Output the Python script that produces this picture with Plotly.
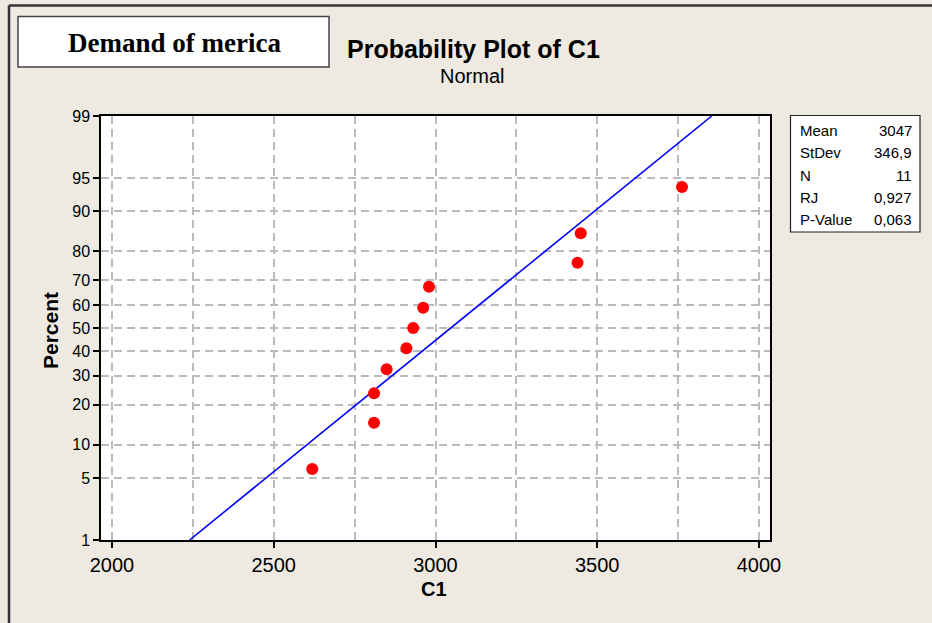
import math
import plotly.graph_objects as go

# ---- data ----
c1_values = [2619, 2810, 2810, 2849, 2910, 2931, 2962, 2980, 3439, 3449, 3762]
percent_values = [6.1, 14.9, 23.7, 32.5, 41.2, 50.0, 58.8, 67.5, 76.3, 85.1, 93.9]
y_tick_percents = [1, 5, 10, 20, 30, 40, 50, 60, 70, 80, 90, 95, 99]
stat_labels = ["Mean", "StDev", "N", "RJ", "P-Value"]
stat_texts = ["3047", "346,9", "11", "0,927", "0,063"]
fit_mean = 3047
fit_sd = 346.9


def norm_ppf(p):
    """Inverse standard normal CDF (Acklam's approximation)."""
    a = [-3.969683028665376e+01, 2.209460984245205e+02, -2.759285104469687e+02,
         1.383577518672690e+02, -3.066479806614716e+01, 2.506628277459239e+00]
    b = [-5.447609879822406e+01, 1.615858368580409e+02, -1.556989798598866e+02,
         6.680131188771972e+01, -1.328068155288572e+01]
    c = [-7.784894002430293e-03, -3.223964580411365e-01, -2.400758277161838e+00,
         -2.549732539343734e+00, 4.374664141464968e+00, 2.938163982698783e+00]
    d = [7.784695709041462e-03, 3.224671290700398e-01, 2.445134137142996e+00,
         3.754408661907416e+00]
    plow = 0.02425
    if p < plow:
        q = math.sqrt(-2 * math.log(p))
        return (((((c[0]*q+c[1])*q+c[2])*q+c[3])*q+c[4])*q+c[5]) / \
               ((((d[0]*q+d[1])*q+d[2])*q+d[3])*q+1)
    if p > 1 - plow:
        q = math.sqrt(-2 * math.log(1 - p))
        return -(((((c[0]*q+c[1])*q+c[2])*q+c[3])*q+c[4])*q+c[5]) / \
                ((((d[0]*q+d[1])*q+d[2])*q+d[3])*q+1)
    q = p - 0.5
    r = q * q
    return (((((a[0]*r+a[1])*r+a[2])*r+a[3])*r+a[4])*r+a[5])*q / \
           (((((b[0]*r+b[1])*r+b[2])*r+b[3])*r+b[4])*r+1)


z_points = [norm_ppf(p / 100) for p in percent_values]
z_ticks = [norm_ppf(p / 100) for p in y_tick_percents]
z_lo, z_hi = z_ticks[0], z_ticks[-1]

W, H = 932, 623
L, R, T, B = 101, 770, 116, 540
pw, ph = R - L, B - T


def px(x):
    return (x - L) / pw


def py(y):
    return (B - y) / ph


FONT = "Liberation Sans"
BG = "#EEEAE1"
GRID = "#BBBBBB"
GDASH = "8px,5px"

fig = go.Figure()

fig.add_trace(go.Scatter(
    x=[fit_mean + fit_sd * z_lo, fit_mean + fit_sd * z_hi],
    y=[z_lo, z_hi],
    mode="lines",
    line=dict(color="#0000FF", width=1.6),
    hoverinfo="skip",
    showlegend=False,
))

fig.add_trace(go.Scatter(
    x=c1_values,
    y=z_points,
    mode="markers",
    marker=dict(color="#FF0000", size=12),
    showlegend=False,
))

shapes = []
# outer frame (top + left)
shapes.append(dict(type="line", xref="paper", yref="paper",
                   x0=px(9), x1=px(940), y0=py(5.5), y1=py(5.5),
                   line=dict(color="#333333", width=2.5)))
shapes.append(dict(type="line", xref="paper", yref="paper",
                   x0=px(9), x1=px(9), y0=py(5.5), y1=py(630),
                   line=dict(color="#333333", width=2.5)))
# "Demand of merica" box
shapes.append(dict(type="rect", xref="paper", yref="paper",
                   x0=px(18), x1=px(329), y0=py(16.5), y1=py(67),
                   fillcolor="white", line=dict(color="#444444", width=1.5)))
# stats box
shapes.append(dict(type="rect", xref="paper", yref="paper",
                   x0=px(790.5), x1=px(920), y0=py(115.5), y1=py(232),
                   fillcolor="white", line=dict(color="#222222", width=1.2)))

annotations = []
annotations.append(dict(text="<b>Demand of merica</b>", xref="paper", yref="paper",
                        x=px(174), y=py(43), showarrow=False,
                        xanchor="center", yanchor="middle",
                        font=dict(family="Liberation Serif", size=27, color="black")))
annotations.append(dict(text="<b>Probability Plot of C1</b>", xref="paper", yref="paper",
                        x=px(473), y=py(49), showarrow=False,
                        xanchor="center", yanchor="middle",
                        font=dict(family=FONT, size=25, color="black")))
annotations.append(dict(text="Normal", xref="paper", yref="paper",
                        x=px(472), y=py(76), showarrow=False,
                        xanchor="center", yanchor="middle",
                        font=dict(family=FONT, size=20, color="black")))
annotations.append(dict(text="<b>Percent</b>", xref="paper", yref="paper",
                        x=px(50), y=py(331), showarrow=False, textangle=-90,
                        xanchor="center", yanchor="middle",
                        font=dict(family=FONT, size=21, color="black")))
annotations.append(dict(text="<b>C1</b>", xref="paper", yref="paper",
                        x=px(434), y=py(589), showarrow=False,
                        xanchor="center", yanchor="middle",
                        font=dict(family=FONT, size=20, color="black")))
row_y = [130, 152.5, 175, 197, 219.5]
for lab, val, yy in zip(stat_labels, stat_texts, row_y):
    annotations.append(dict(text=lab, xref="paper", yref="paper",
                            x=px(798), y=py(yy), showarrow=False,
                            xanchor="left", yanchor="middle",
                            font=dict(family=FONT, size=15, color="black")))
    annotations.append(dict(text=val, xref="paper", yref="paper",
                            x=px(914), y=py(yy), showarrow=False,
                            xanchor="right", yanchor="middle",
                            font=dict(family=FONT, size=15, color="black")))

fig.update_layout(
    width=W, height=H,
    margin=dict(l=L, r=W - R, t=T, b=H - B, autoexpand=False),
    paper_bgcolor=BG,
    plot_bgcolor="white",
    shapes=shapes,
    annotations=annotations,
    showlegend=False,
)

fig.update_xaxes(
    range=[1966, 4034],
    tickmode="linear", tick0=2000, dtick=500,
    ticks="outside", ticklen=6, tickcolor="black", tickwidth=1.5,
    tickfont=dict(family=FONT, size=20, color="black"),
    showgrid=True, gridcolor=GRID, griddash=GDASH, gridwidth=1.5,
    minor=dict(tick0=2000, dtick=250, showgrid=True, gridcolor=GRID,
               griddash=GDASH, gridwidth=1.5, ticklen=0),
    showline=True, linecolor="black", linewidth=1.5, mirror=True,
    zeroline=False,
)
fig.update_yaxes(
    range=[z_lo, z_hi],
    tickmode="array", tickvals=z_ticks, ticktext=[str(p) for p in y_tick_percents],
    ticks="outside", ticklen=6, tickcolor="black", tickwidth=1.5,
    tickfont=dict(family=FONT, size=16, color="black"),
    showgrid=True, gridcolor=GRID, griddash=GDASH, gridwidth=1.5,
    showline=True, linecolor="black", linewidth=1.5, mirror=True,
    zeroline=False,
)

fig.write_html(
    "out.html",
    config={"displayModeBar": False},
    post_script="document.body.style.margin='0';document.body.style.overflow='hidden';"
                "document.body.style.background='" + BG + "';",
)
